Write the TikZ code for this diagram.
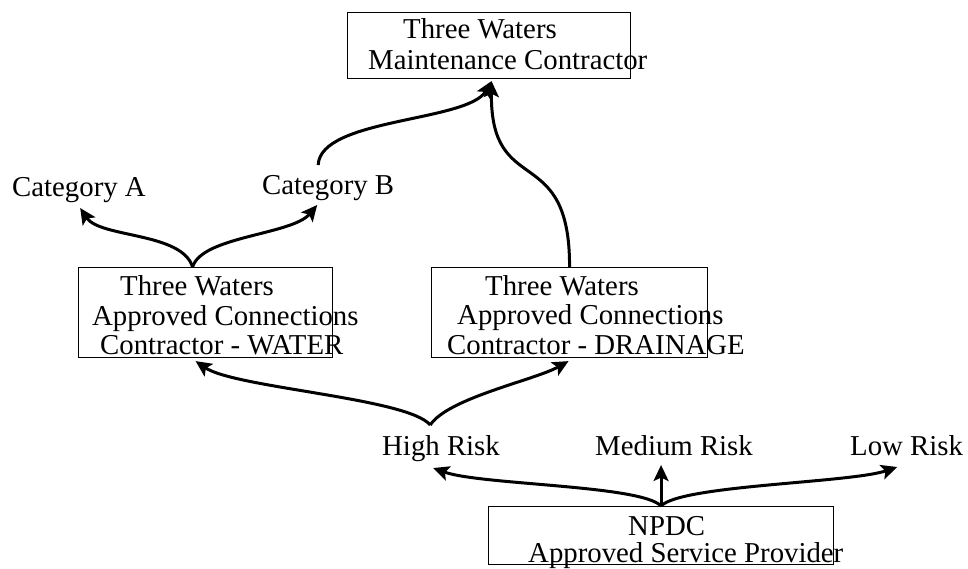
\documentclass[tikz,border=0pt]{standalone}
\usepackage{fontspec}
\setmainfont{Liberation Serif}
\usetikzlibrary{arrows.meta,calc}
\begin{document}
\begin{tikzpicture}[x=1pt,y=-1pt,
  box/.style={draw,line width=1.1pt,inner sep=0pt,anchor=north west},
  txt/.style={inner sep=0pt,anchor=base west,font=\fontsize{28.8}{30}\selectfont},
  conn/.style={line width=3pt,-{Stealth[length=16pt,width=15pt,inset=3.5pt]}},
  link/.style={line width=3pt}]
\useasboundingbox (0,0) rectangle (968,569);

% boxes
\node[box,minimum width=283pt,minimum height=66pt] (tb) at (347,12) {};
\node[box,minimum width=254pt,minimum height=90pt] (wb) at (78,267) {};
\node[box,minimum width=276pt,minimum height=90pt] (db) at (431,267) {};
\node[box,minimum width=345pt,minimum height=58pt] (nb) at (488,506) {};

% box texts
\node[txt] (tb1) at (403,39) {Three Waters};
\node[txt] (tb2) at (368,70) {Maintenance Contractor};
\node[txt] (wb1) at (120,295) {Three Waters};
\node[txt] (wb2) at (92,325) {Approved Connections};
\node[txt] (wb3) at (100,354) {Contractor - WATER};
\node[txt] (db1) at (485,295) {Three Waters};
\node[txt] (db2) at (457,324) {Approved Connections};
\node[txt] (db3) at (447,354) {Contractor - DRAINAGE};
\node[txt] (nb1) at (628,535) {NPDC};
\node[txt] (nb2) at (528,562) {Approved Service Provider};

% labels
\node[txt] (ca) at (12,197) {Category A};
\node[txt] (cb) at (262,195) {Category B};
\node[txt] (hr) at (382,455) {High Risk};
\node[txt] (mr) at (595,455) {Medium Risk};
\node[txt] (lr) at (850,455) {Low Risk};

% connectors from NPDC
\draw[conn] (nb.north) -- ($(nb.north |- mr.base)+(0,10)$);
\draw[conn] (nb.north) .. controls ($(nb.north)+(-20,-21)$) and (480,485) .. ($(hr.base)+(-7.8,13)$);
\draw[conn] (nb.north) .. controls ($(nb.north)+(20,-21)$) and (850,483) .. ($(lr.base)+(-9.4,12)$);

% connectors from High Risk
\draw[conn] ($(hr.base)+(-10.8,-30)$) .. controls (408,398) and (235,388) .. ($(wb.south)+(-10,3)$);
\draw[conn] ($(hr.base)+(-10.8,-30)$) .. controls (448,398) and (535,380) .. ($(db.south)+(-1,3)$);

% connectors from Water box
\draw[conn] ($(wb.north)+(-13,0)$) .. controls (182,232) and (100,238) .. ($(ca.base)+(1.2,11)$);
\draw[conn] ($(wb.north)+(-13,0)$) .. controls (202,236) and (292,235) .. ($(cb.base)+(-11,10)$);

% connectors to Maintenance Contractor
\draw[conn] ($(cb.base)+(-10,-30)$) .. controls (320,118) and (468,122) .. ($(tb.south)+(2.5,2)$);
\draw[conn] (db.north) .. controls (570,140) and (490,200) .. ($(tb.south)+(2.5,2)$);
\end{tikzpicture}
\end{document}
